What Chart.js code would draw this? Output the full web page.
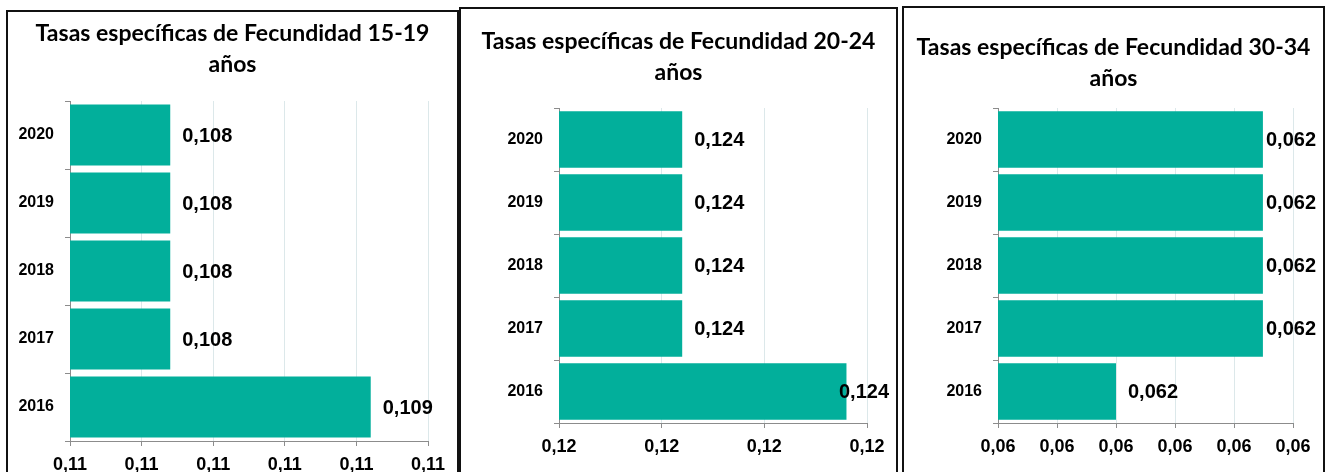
<!DOCTYPE html>
<html>
<head>
<meta charset="utf-8">
<script src="https://cdn.jsdelivr.net/npm/chart.js@4.4.1/dist/chart.umd.min.js"></script>
<style>
    html, body { margin: 0; padding: 0; background: #fff; overflow: hidden; width: 1328px; height: 472px; }
    .panel { position: absolute; border: 2px solid #111; box-sizing: border-box; background: #fff; }
    .panel canvas { display: block; }
    #p1 { left: 6px;   top: 10px; width: 453px; height: 490px; }
    #p2 { left: 459px; top: 7px;  width: 439px; height: 490px; }
    #p3 { left: 902px; top: 6px;  width: 423px; height: 490px; }
</style>
</head>
<body>
<div class="panel" id="p1"><canvas id="c1" width="449" height="474"></canvas></div>
<div class="panel" id="p2"><canvas id="c2" width="435" height="459"></canvas></div>
<div class="panel" id="p3"><canvas id="c3" width="419" height="460"></canvas></div>

<script>
/* Tasas específicas de fecundidad por grupo de edad */

const years = ['2020', '2019', '2018', '2017', '2016'];

const tasa1519 = [0.10808, 0.10808, 0.10808, 0.10808, 0.10864];
const tasa2024 = [0.12384, 0.12384, 0.12384, 0.12384, 0.12416];
const tasa3034 = [0.062298, 0.062298, 0.062298, 0.062298, 0.0618];

// escala x de cada panel (min, max, paso)
const ejeX1519 = [0.1078, 0.1088, 0.0002];
const ejeX2024 = [0.1236, 0.1242, 0.0002];
const ejeX3034 = [0.0614, 0.0624, 0.0002];

const TEAL = '#02AF9B';
const AXIS = '#8C8C8C';
const GRID = '#DCE8EA';
const ARIAL = '"Liberation Sans", Arial, sans-serif';

const coma = (v, d) => v.toFixed(d).replace('.', ',');

// valores al final de cada barra, sin salirse del recuadro
const etiquetas = {
    id: 'etiquetas',
    afterDatasetsDraw(chart) {
        const ctx = chart.ctx;
        const data = chart.data.datasets[0].data;
        ctx.save();
        ctx.font = 'bold 20px ' + ARIAL;
        ctx.fillStyle = '#000';
        ctx.textBaseline = 'middle';
        chart.getDatasetMeta(0).data.forEach((bar, i) => {
            const txt = coma(data[i], 3);
            const w = ctx.measureText(txt).width;
            const x = Math.min(bar.x + 12, chart.width - 7 - w);
            ctx.fillText(txt, x, bar.y + 1);
        });
        ctx.restore();
    }
};

function panel(id, edad, values, eje, box) {
    const canvas = document.getElementById(id);
    return new Chart(canvas, {
        type: 'bar',
        data: {
            labels: years,
            datasets: [{
                data: values,
                backgroundColor: TEAL,
                borderWidth: 0,
                barPercentage: 0.9,
                categoryPercentage: 1
            }]
        },
        plugins: [etiquetas],
        options: {
            indexAxis: 'y',
            responsive: false,
            animation: false,
            layout: { padding: 0 },
            plugins: {
                legend: { display: false },
                tooltip: { enabled: false },
                title: {
                    display: true,
                    text: ['Tasas específicas de Fecundidad ' + edad, 'años'],
                    color: '#000',
                    font: { family: 'Lato', size: 23, weight: 'bold', lineHeight: 31 / 23 },
                    padding: { top: box.titleTop, bottom: box.top - box.titleTop - 62 }
                }
            },
            scales: {
                x: {
                    min: eje[0],
                    max: eje[1],
                    afterFit: s => { s.height = 45; },
                    ticks: {
                        stepSize: eje[2],
                        autoSkip: false,
                        maxRotation: 0,
                        padding: 8,
                        color: '#000',
                        font: { family: ARIAL, size: 18, weight: 'bold' },
                        callback: v => coma(v, 2)
                    },
                    grid: { color: GRID, tickColor: AXIS, tickLength: 5 },
                    border: { color: AXIS }
                },
                y: {
                    afterFit: s => { s.width = box.left; },
                    ticks: {
                        padding: 11,
                        color: '#000',
                        font: { family: ARIAL, size: 16, weight: 'bold' }
                    },
                    grid: { drawOnChartArea: false, tickColor: AXIS, tickLength: 5 },
                    border: { color: AXIS }
                },
                // margen derecho vacío, para que el título quede centrado en el recuadro
                margen: {
                    type: 'category',
                    position: 'right',
                    afterFit: s => { s.width = canvas.width - box.right; },
                    ticks: { display: false },
                    grid: { display: false },
                    border: { display: false }
                }
            }
        }
    });
}

panel('c1', '15-19', tasa1519, ejeX1519, { left: 62, right: 420, top: 89, titleTop: 6 });
panel('c2', '20-24', tasa2024, ejeX2024, { left: 98, right: 406, top: 99, titleTop: 17 });
panel('c3', '30-34', tasa3034, ejeX3034, { left: 94, right: 389, top: 100, titleTop: 24 });
</script>
</body>
</html>
